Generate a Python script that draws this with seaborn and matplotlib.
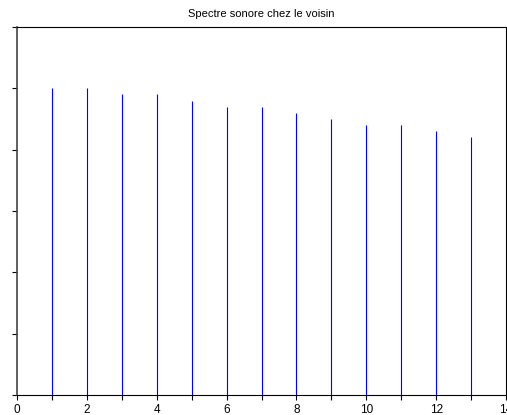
import numpy as np
import seaborn as sns
import matplotlib.pyplot as plt
from matplotlib.ticker import MultipleLocator, NullFormatter

# harmonic index and level
harmonics = [1, 2, 3, 4, 5, 6, 7, 8, 9, 10, 11, 12, 13]
levels = [50, 50, 49, 49, 48, 47, 47, 46, 45, 44, 44, 43, 42]
title = "Spectre sonore chez le voisin"

sns.set_theme(style="white")
plt.rcParams['font.family'] = ['Liberation Sans', 'DejaVu Sans']

fig = plt.figure(figsize=(5.07, 4.15), dpi=100)
ax = fig.add_axes([17 / 507, 20 / 415, 489 / 507, 368 / 415])

ax.vlines(harmonics, 0, levels, color='#0000ff', linewidth=0.8)

ax.set_xlim(0, 14)
ax.set_ylim(0, 60)
ax.xaxis.set_major_locator(MultipleLocator(2))
ax.xaxis.set_minor_locator(MultipleLocator(1))
ax.yaxis.set_major_locator(MultipleLocator(10))
ax.yaxis.set_major_formatter(NullFormatter())

ax.tick_params(axis='both', which='both', direction='out', length=3.5,
               width=0.8, color='black', bottom=True, left=True,
               labelsize=8.5, pad=3, labelcolor='black')
for side in ['top', 'right', 'bottom']:
    ax.spines[side].set_color('black')
    ax.spines[side].set_linewidth(0.8)
ax.spines['left'].set_color('#444444')
ax.spines['left'].set_linewidth(1.2)

ax.set_title(title, fontsize=8, color='black', pad=7.5)

fig.savefig('out.png', dpi=100)
